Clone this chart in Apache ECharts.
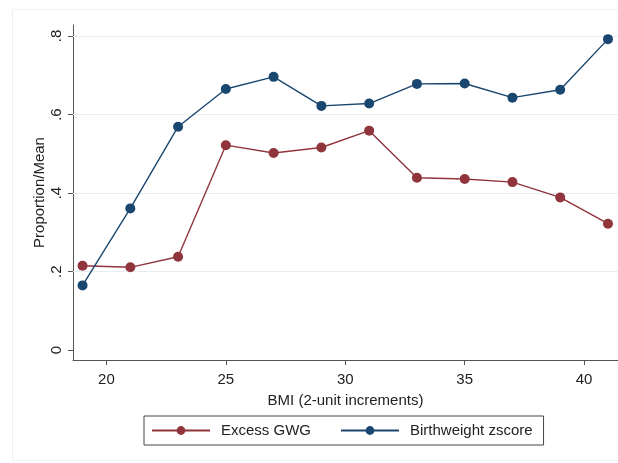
<!DOCTYPE html>
<html>
<head>
<meta charset="utf-8">
<script src="https://cdn.jsdelivr.net/npm/echarts@6/dist/echarts.min.js"></script>
<style>
  html, body { margin: 0; padding: 0; background: #fff; }
  #chart { width: 618px; height: 463px; }
</style>
</head>
<body>
<div id="chart"></div>
<script>
// BMI bins (2-unit increments)
const bmi = [19, 21, 23, 25, 27, 29, 31, 33, 35, 37, 39, 41];
// Proportion with excess gestational weight gain
const excessGWG = [0.215, 0.211, 0.238, 0.522, 0.502, 0.516, 0.559, 0.439, 0.436, 0.428, 0.389, 0.322];
// Mean birthweight z-score
const birthweightZ = [0.165, 0.361, 0.569, 0.665, 0.696, 0.622, 0.628, 0.678, 0.679, 0.643, 0.663, 0.792];
// Axis ticks
const xTicks = [20, 25, 30, 35, 40];
const yTicks = [0, 0.2, 0.4, 0.6, 0.8];

const pair = (xs, ys) => xs.map((x, i) => [x, ys[i]]);
const fmtY = v => (v === 0 ? '0' : String(v).replace(/^0/, ''));
const font = 'Liberation Sans, Arial, sans-serif';

const chart = echarts.init(document.getElementById('chart'), null, { renderer: 'canvas' });
chart.setOption({
  backgroundColor: '#fff',
  animation: false,
  textStyle: { fontFamily: font },
  // faint outer frame of the graph region
  graphic: [{
    type: 'rect',
    silent: true,
    z: -1,
    shape: { x: 12.5, y: 9.5, width: 620, height: 451 },
    style: { fill: 'none', stroke: '#f0f0f0', lineWidth: 1 }
  }],
  grid: { left: 73, right: 0, top: 25, bottom: 103, containLabel: false },
  xAxis: {
    type: 'value',
    min: 18.6,
    max: 41.42,
    name: 'BMI (2-unit increments)',
    nameLocation: 'middle',
    nameGap: 33,
    nameMoveOverlap: false,
    nameTextStyle: { fontSize: 15, color: '#222', fontFamily: font },
    axisLine: { onZero: false, lineStyle: { color: '#555', width: 1 } },
    axisTick: { show: true, length: 5, customValues: xTicks, lineStyle: { color: '#555' } },
    axisLabel: { customValues: xTicks, margin: 12, fontSize: 15, color: '#222', fontFamily: font },
    splitLine: { show: false }
  },
  yAxis: {
    type: 'value',
    min: -0.025,
    max: 0.828,
    name: 'Proportion/Mean',
    nameLocation: 'middle',
    nameGap: 26,
    nameMoveOverlap: false,
    nameTextStyle: { fontSize: 15, color: '#222', fontFamily: font },
    axisLine: { show: true, onZero: false, lineStyle: { color: '#555', width: 1 } },
    axisTick: { show: true, length: 5, customValues: yTicks, lineStyle: { color: '#555' } },
    axisLabel: {
      customValues: yTicks, rotate: 90, margin: 9, fontSize: 15, color: '#222',
      fontFamily: font, formatter: fmtY
    },
    splitLine: { show: false }
  },
  legend: {
    left: 144,
    top: 416,
    orient: 'horizontal',
    borderColor: '#444',
    borderWidth: 1,
    padding: [7, 11, 7, 7],
    itemGap: 29,
    itemWidth: 58,
    itemHeight: 11,
    textStyle: { fontSize: 15, color: '#222', fontFamily: font, padding: [0, 0, 0, 6] },
    data: ['Excess GWG', 'Birthweight zscore']
  },
  series: [
    {
      // light horizontal gridlines at the labelled ticks above zero
      type: 'line',
      data: [],
      silent: true,
      z: 1,
      markLine: {
        silent: true,
        z: 1,
        symbol: 'none',
        label: { show: false },
        lineStyle: { color: '#e6eef0', width: 1, type: 'solid' },
        data: yTicks.filter(v => v > 0).map(v => ({ yAxis: v }))
      }
    },
    {
      name: 'Excess GWG',
      type: 'line',
      data: pair(bmi, excessGWG),
      symbol: 'circle',
      symbolSize: 10,
      lineStyle: { color: '#90353b', width: 1.4 },
      itemStyle: { color: '#90353b' },
      z: 3
    },
    {
      name: 'Birthweight zscore',
      type: 'line',
      data: pair(bmi, birthweightZ),
      symbol: 'circle',
      symbolSize: 10,
      lineStyle: { color: '#1a476f', width: 1.4 },
      itemStyle: { color: '#1a476f' },
      z: 3
    }
  ]
});
</script>
</body>
</html>
